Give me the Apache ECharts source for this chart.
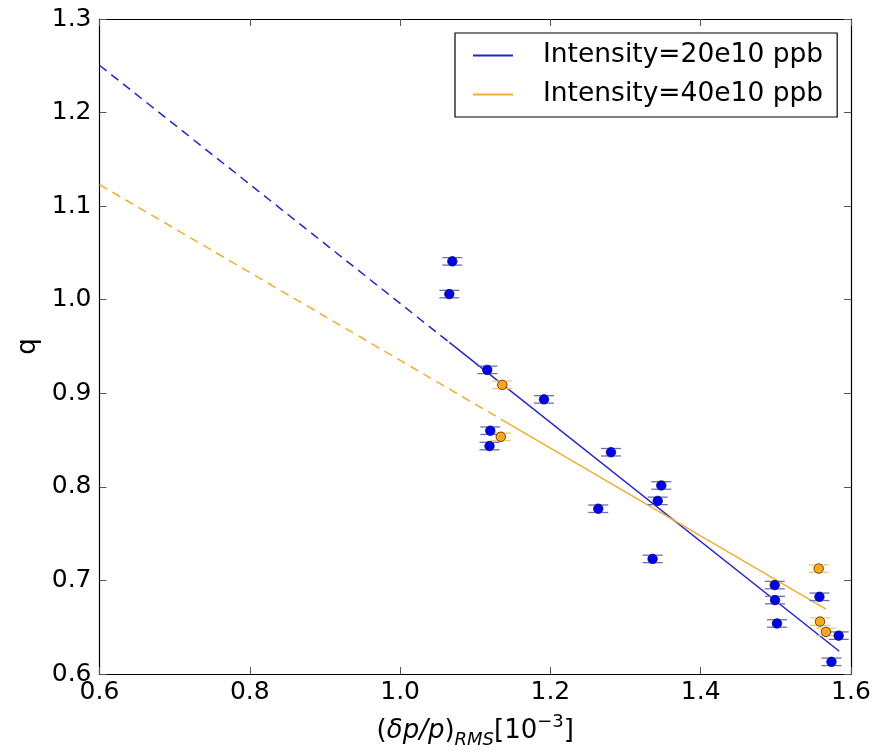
<!DOCTYPE html>
<html>
<head>
<meta charset="utf-8">
<script src="https://cdn.jsdelivr.net/npm/echarts@6/dist/echarts.min.js"></script>
<style>
html,body{margin:0;padding:0;background:#fff;overflow:hidden;}
#chart{width:878px;height:754px;}
</style>
</head>
<body>
<div id="chart"></div>
<script>
// ---- data ----
const xTicks = [0.6, 0.8, 1.0, 1.2, 1.4, 1.6];
const yTicks = [0.6, 0.7, 0.8, 0.9, 1.0, 1.1, 1.2, 1.3];

const blueX = [1.0695, 1.0655, 1.116, 1.1915, 1.120, 1.119, 1.2806, 1.3476, 1.3428, 1.2637, 1.336, 1.4985, 1.558, 1.4989, 1.5015, 1.5836, 1.574];
const blueY = [1.041, 1.006, 0.925, 0.8935, 0.860, 0.8436, 0.837, 0.8015, 0.785, 0.7766, 0.723, 0.695, 0.6825, 0.679, 0.654, 0.641, 0.613];
const blueErr = [0.004, 0.004, 0.004, 0.004, 0.004, 0.004, 0.004, 0.004, 0.004, 0.004, 0.004, 0.004, 0.004, 0.004, 0.004, 0.004, 0.004];

const orangeX = [1.136, 1.134, 1.557, 1.5588, 1.5667];
const orangeY = [0.909, 0.8535, 0.7127, 0.656, 0.645];
const orangeErr = [0.004, 0.004, 0.004, 0.004, 0.004];

// fit lines: extrapolated (dashed) and fitted range (solid)
const blueFitDashed = [[0.6, 1.2506], [1.0655, 0.9544]];
const blueFitSolid = [[1.0655, 0.9544], [1.5844, 0.6243]];
const orangeFitDashed = [[0.6, 1.123], [1.134, 0.8724]];
const orangeFitSolid = [[1.134, 0.8724], [1.5667, 0.6693]];

const blueName = 'Intensity=20e10 ppb';
const orangeName = 'Intensity=40e10 ppb';

// ---- chart ----
const FONT = 'DejaVu Sans';
const BLUE_LINE = '#2626c4';
const ORANGE_LINE = '#efad33';
const BLUE_PT = '#0000f0';
const ORANGE_PT = '#ffa51e';
const BLUE_CAP = '#6b6bc4';
const ORANGE_CAP = '#f3c778';

const el = document.getElementById('chart');
const chart = echarts.init(el, null, {renderer: 'canvas'});

function zip(xs, ys, es) { return xs.map((x, i) => [x, ys[i], es[i]]); }

function errRender(color) {
  return function (params, api) {
    const x = api.value(0), y = api.value(1), e = api.value(2);
    const t = api.coord([x, y + e]);
    const b = api.coord([x, y - e]);
    const hw = 10;
    const st = {stroke: color, lineWidth: 1.3};
    return {
      type: 'group',
      children: [
        {type: 'line', shape: {x1: t[0], y1: t[1], x2: b[0], y2: b[1]}, style: st},
        {type: 'line', shape: {x1: t[0] - hw, y1: t[1], x2: t[0] + hw, y2: t[1]}, style: st},
        {type: 'line', shape: {x1: b[0] - hw, y1: b[1], x2: b[0] + hw, y2: b[1]}, style: st}
      ]
    };
  };
}

const axisLine = {show: true, onZero: false, lineStyle: {color: '#000', width: 1.2}};
const axisTick = {show: true, inside: true, length: 7, lineStyle: {color: '#555', width: 1}};

const option = {
  backgroundColor: '#fff',
  animation: false,
  grid: {left: 99.5, right: 27, top: 19, bottom: 76, containLabel: false},
  legend: {
    data: [blueName, orangeName],
    orient: 'vertical',
    left: 455,
    top: 33,
    backgroundColor: '#fff',
    borderColor: '#000',
    borderWidth: 1.2,
    borderRadius: 0,
    padding: [9, 14, 9, 18],
    itemGap: 12,
    itemWidth: 40,
    itemHeight: 2,
    icon: 'rect',
    textStyle: {fontFamily: FONT, fontSize: 26.5, lineHeight: 27, color: '#000', padding: [0, 0, 0, 25]}
  },
  xAxis: [
    {
      type: 'value', min: 0.6, max: 1.6, interval: 0.2, position: 'bottom',
      axisLine: axisLine, axisTick: axisTick, splitLine: {show: false},
      axisLabel: {fontFamily: FONT, fontSize: 25, color: '#000', margin: 6,
        formatter: v => v.toFixed(1)},
      name: '{p|(}{i|δp/p}{p|)}{sub|RMS}{p|[10}{sup|−3}{p|]}',
      nameLocation: 'middle', nameGap: 39,
      nameTextStyle: {
        rich: {
          p: {fontFamily: FONT, fontSize: 26, color: '#000', lineHeight: 36},
          i: {fontFamily: FONT, fontStyle: 'italic', fontSize: 26, color: '#000', lineHeight: 36},
          sub: {fontFamily: FONT, fontStyle: 'italic', fontSize: 18, color: '#000', lineHeight: 36, verticalAlign: 'bottom'},
          sup: {fontFamily: FONT, fontSize: 18, color: '#000', lineHeight: 36, verticalAlign: 'top'}
        }
      }
    },
    {
      type: 'value', min: 0.6, max: 1.6, interval: 0.2, position: 'top',
      axisLine: axisLine, axisTick: axisTick, splitLine: {show: false},
      axisLabel: {show: false}
    }
  ],
  yAxis: [
    {
      type: 'value', min: 0.6, max: 1.3, interval: 0.1, position: 'left',
      axisLine: axisLine, axisTick: axisTick, splitLine: {show: false},
      axisLabel: {fontFamily: FONT, fontSize: 25, color: '#000', margin: 8,
        formatter: v => v.toFixed(1)},
      name: 'q', nameLocation: 'middle', nameGap: 56, nameRotate: 90,
      nameTextStyle: {fontFamily: FONT, fontSize: 26, color: '#000'}
    },
    {
      type: 'value', min: 0.6, max: 1.3, interval: 0.1, position: 'right',
      axisLine: axisLine, axisTick: axisTick, splitLine: {show: false},
      axisLabel: {show: false}
    }
  ],
  series: [
    {name: 'blueDash', type: 'line', data: blueFitDashed, symbol: 'none', silent: true,
      lineStyle: {color: BLUE_LINE, width: 1.5, type: [9, 6]}, z: 2},
    {name: blueName, type: 'line', data: blueFitSolid, symbol: 'none', silent: true,
      color: BLUE_LINE, lineStyle: {color: BLUE_LINE, width: 1.5}, z: 2},
    {name: 'orangeDash', type: 'line', data: orangeFitDashed, symbol: 'none', silent: true,
      lineStyle: {color: ORANGE_LINE, width: 1.5, type: [9, 6]}, z: 2},
    {name: orangeName, type: 'line', data: orangeFitSolid, symbol: 'none', silent: true,
      color: ORANGE_LINE, lineStyle: {color: ORANGE_LINE, width: 1.5}, z: 2},
    {name: 'blueErr', type: 'custom', data: zip(blueX, blueY, blueErr), renderItem: errRender(BLUE_CAP), z: 3, silent: true},
    {name: 'orangeErr', type: 'custom', data: zip(orangeX, orangeY, orangeErr), renderItem: errRender(ORANGE_CAP), z: 3, silent: true},
    {name: 'bluePts', type: 'scatter', data: zip(blueX, blueY, blueErr), symbol: 'circle', symbolSize: 9.5,
      itemStyle: {color: BLUE_PT, borderColor: '#101050', borderWidth: 0.8, opacity: 1}, z: 4},
    {name: 'orangePts', type: 'scatter', data: zip(orangeX, orangeY, orangeErr), symbol: 'circle', symbolSize: 9.5,
      itemStyle: {color: ORANGE_PT, borderColor: '#3a2a00', borderWidth: 0.8, opacity: 1}, z: 4}
  ]
};
chart.setOption(option);
</script>
</body>
</html>
